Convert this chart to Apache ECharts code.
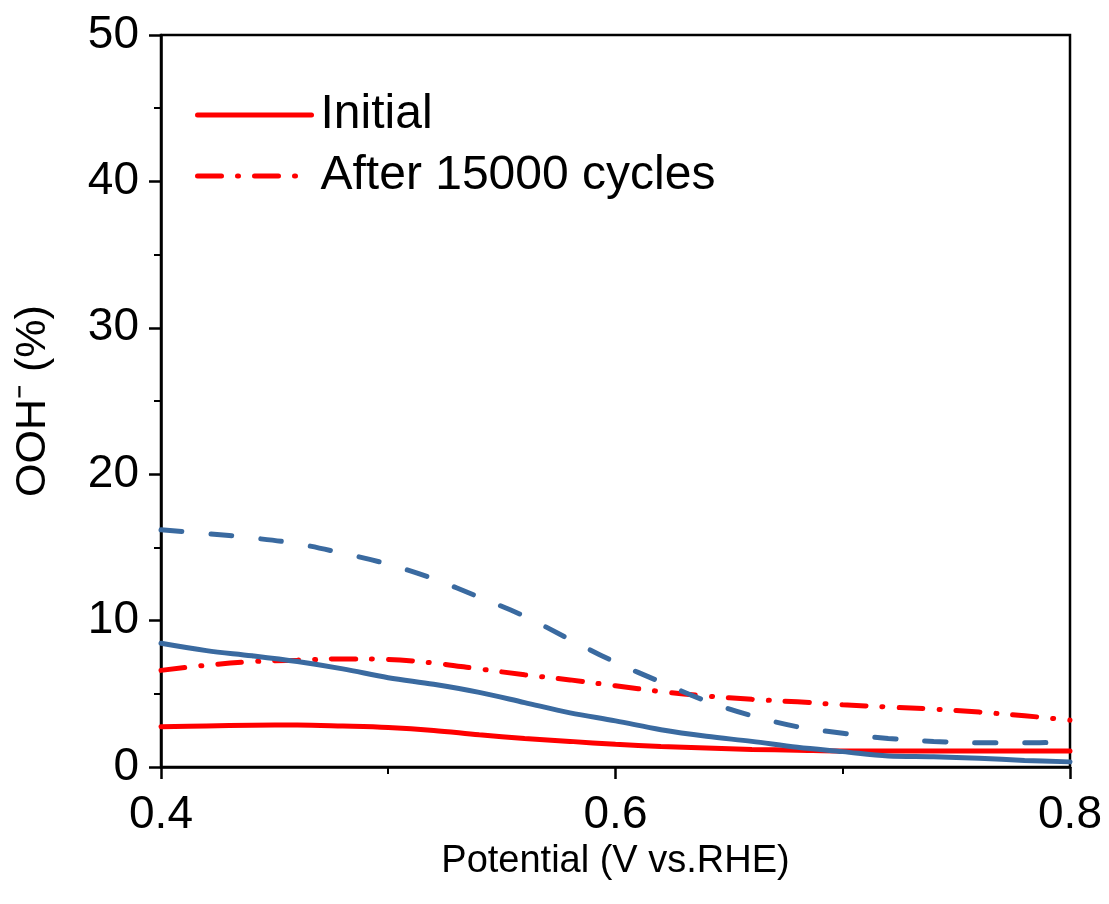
<!DOCTYPE html>
<html>
<head>
<meta charset="utf-8">
<script src="https://cdn.jsdelivr.net/npm/echarts@6/dist/echarts.min.js"></script>
<style>
  html, body { margin: 0; padding: 0; background: #fff; }
  #chart { width: 1109px; height: 904px; }
</style>
</head>
<body>
<div id="chart"></div>
<script>
// Potential (V vs. RHE) sampling points
const potential = [0.40, 0.42, 0.44, 0.46, 0.48, 0.50, 0.52, 0.54, 0.56, 0.58, 0.60,
                   0.62, 0.64, 0.66, 0.68, 0.70, 0.72, 0.74, 0.76, 0.78, 0.80];

// OOH- selectivity (%)
const initialRed    = [2.75, 2.80, 2.85, 2.87, 2.80, 2.70, 2.50, 2.20, 1.95, 1.75, 1.55,
                       1.40, 1.30, 1.20, 1.15, 1.10, 1.10, 1.10, 1.10, 1.10, 1.10];
const cycledRed     = [6.60, 6.95, 7.20, 7.30, 7.38, 7.35, 7.10, 6.70, 6.30, 5.95, 5.55,
                       5.15, 4.85, 4.62, 4.45, 4.25, 4.10, 3.95, 3.75, 3.50, 3.20];
const initialBlue   = [8.45, 7.95, 7.60, 7.20, 6.70, 6.10, 5.65, 5.10, 4.40, 3.70, 3.15,
                       2.55, 2.10, 1.75, 1.35, 1.05, 0.75, 0.70, 0.60, 0.45, 0.35];
const cycledBlue    = [16.2, 15.95, 15.65, 15.25, 14.6, 13.85, 12.85, 11.6, 10.3, 8.70, 7.15,
                       5.80, 4.50, 3.50, 2.75, 2.30, 1.95, 1.75, 1.65, 1.65, 1.72];

const legendNames = ['Initial', 'After 15000 cycles'];

const RED = '#FF0000';
const BLUE = '#3A6AA0';
const FONT = '"Liberation Sans", Arial, sans-serif';

function pairs(ys) { return potential.map((x, i) => [x, ys[i]]); }

function lineSeries(name, ys, color, type) {
  return {
    name: name,
    type: 'line',
    data: pairs(ys),
    smooth: 0.35,
    symbol: 'none',
    showSymbol: false,
    lineStyle: { color: color, width: 5, type: type, cap: 'round' },
    itemStyle: { color: color },
    emphasis: { disabled: true },
    animation: false
  };
}

const chart = echarts.init(document.getElementById('chart'), null, { renderer: 'canvas' });

chart.setOption({
  backgroundColor: '#ffffff',
  animation: false,
  textStyle: { fontFamily: FONT },
  grid: {
    left: 161, right: 39, top: 35, bottom: 137,
    show: true, borderColor: '#000', borderWidth: 2.5, backgroundColor: 'transparent'
  },
  legend: {
    data: legendNames,
    orient: 'vertical',
    left: 190, top: 86,
    itemWidth: 114, itemHeight: 26, itemGap: 13,
    itemStyle: { opacity: 0 },
    lineStyle: { width: 5, cap: 'round' },
    textStyle: { fontSize: 48, color: '#000', fontFamily: FONT, padding: [0, 0, 0, 4] },
    selectedMode: false
  },
  xAxis: {
    type: 'value',
    min: 0.4, max: 0.8, interval: 0.2,
    name: 'Potential (V vs.RHE)',
    nameLocation: 'middle',
    nameGap: 69,
    nameTextStyle: { fontSize: 38, color: '#000', fontFamily: FONT },
    axisLine: { show: true, lineStyle: { color: '#000', width: 2.5 } },
    axisTick: { show: true, inside: false, length: 12, lineStyle: { color: '#000', width: 2.5 } },
    minorTick: { show: true, splitNumber: 2, length: 7, lineStyle: { color: '#000', width: 2 } },
    axisLabel: { fontSize: 46, color: '#000', margin: 25, fontFamily: FONT,
                 formatter: v => v.toFixed(1) },
    splitLine: { show: false }
  },
  yAxis: {
    type: 'value',
    min: 0, max: 50, interval: 10,
    name: 'OOH\u207B (%)',
    nameLocation: 'middle',
    nameGap: 106,
    nameTextStyle: { fontSize: 43, color: '#000', fontFamily: FONT },
    axisLine: { show: true, lineStyle: { color: '#000', width: 2.5 } },
    axisTick: { show: true, inside: false, length: 12, lineStyle: { color: '#000', width: 2.5 } },
    minorTick: { show: true, splitNumber: 2, length: 7, lineStyle: { color: '#000', width: 2 } },
    axisLabel: { fontSize: 46, color: '#000', margin: 22, fontFamily: FONT },
    splitLine: { show: false }
  },
  series: [
    lineSeries('Initial', initialRed, RED, 'solid'),
    lineSeries('After 15000 cycles', cycledRed, RED, [24, 16, 1, 16]),
    lineSeries('Initial (blue)', initialBlue, BLUE, 'solid'),
    lineSeries('After 15000 cycles (blue)', cycledBlue, BLUE, [21, 29])
  ]
});
</script>
</body>
</html>
